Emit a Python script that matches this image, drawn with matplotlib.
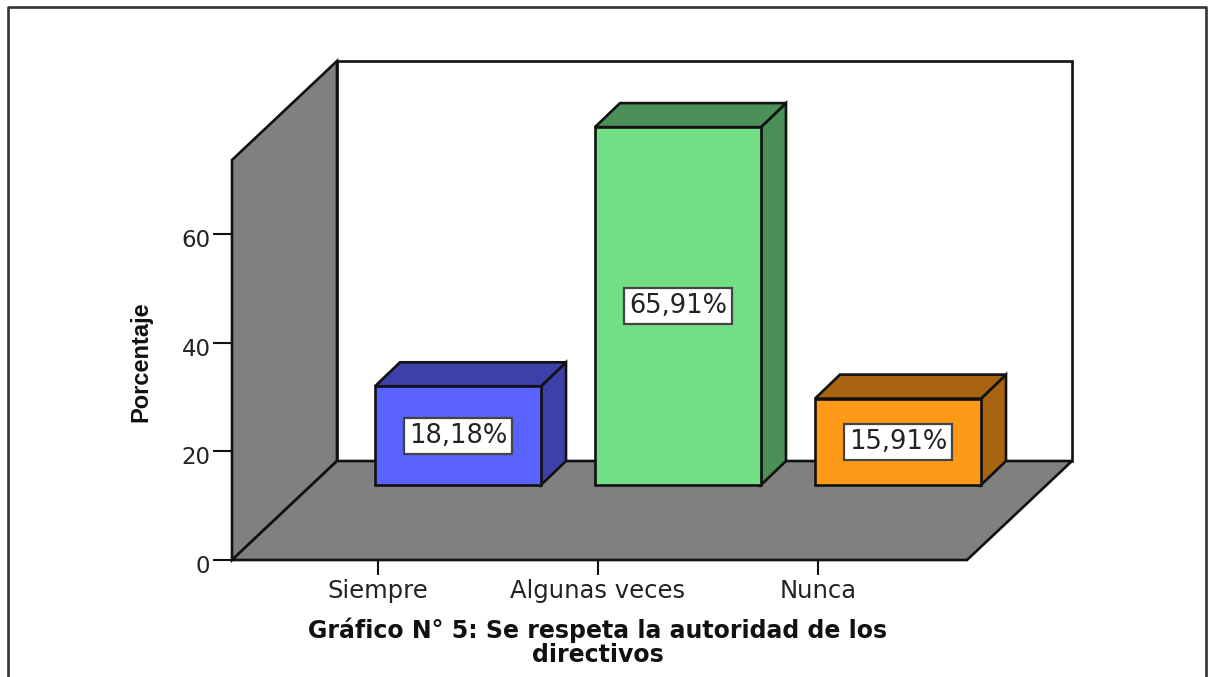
import matplotlib
matplotlib.use("Agg")
import matplotlib.pyplot as plt
from matplotlib.lines import Line2D
from matplotlib.patches import Polygon
from matplotlib.transforms import ScaledTranslation

categories = ["Siempre", "Algunas veces", "Nunca"]
values = [18.18, 65.91, 15.91]
value_labels = ["18,18%", "65,91%", "15,91%"]
face_colors = ["#5A62FF", "#72DE85", "#FF9A18"]
shade_colors = ["#3D40A8", "#4A9058", "#A86410"]
y_ticks = [0, 20, 40, 60]
y_label = "Porcentaje"
title_lines = ["Gráfico N° 5: Se respeta la autoridad de los", "directivos"]

W, H = 1214, 677
PX_X, PX_Y = 220.0, 5.43           # pixels per category / per percent
fig = plt.figure(figsize=(W / 100, H / 100), dpi=100, facecolor="white")
left, right, top, bottom = 232, 967, 160, 560
ax = fig.add_axes([left / W, 1 - bottom / H, (right - left) / W, (bottom - top) / H])
ax.set_xlim((left - 378) / PX_X, (right - 378) / PX_X)
ax.set_ylim(0, (bottom - top) / PX_Y)
ax.patch.set_visible(False)
for s in ax.spines.values():
    s.set_visible(False)

EDGE = "#111111"
LW = 1.9
dx, dy = 105 / PX_X, 99 / PX_Y      # depth of the chart box
ymax = ax.get_ylim()[1]
x0, x1 = ax.get_xlim()

def poly(pts, fc, z):
    ax.add_patch(Polygon(pts, closed=True, facecolor=fc, edgecolor=EDGE, linewidth=LW,
                         joinstyle="miter", clip_on=False, zorder=z))

poly([(x0 + dx, dy), (x1 + dx, dy), (x1 + dx, ymax + dy), (x0 + dx, ymax + dy)], "white", 1)
poly([(x0, 0), (x0, ymax), (x0 + dx, ymax + dy), (x0 + dx, dy)], "#808080", 2)
poly([(x0, 0), (x1, 0), (x1 + dx, dy), (x0 + dx, dy)], "#808080", 2)

# 3-D bars
bar_dx, bar_base = 80 / PX_X, 75 / PX_Y
half = 83 / PX_X
bdx, bdy = 25 / PX_X, 24 / PX_Y
for i, (v, fc, sc, lab) in enumerate(zip(values, face_colors, shade_colors, value_labels)):
    xa, xb = i + bar_dx - half, i + bar_dx + half
    ya, yb = bar_base, bar_base + v
    poly([(xb, ya), (xb + bdx, ya + bdy), (xb + bdx, yb + bdy), (xb, yb)], sc, 3 + i)
    poly([(xa, yb), (xb, yb), (xb + bdx, yb + bdy), (xa + bdx, yb + bdy)], sc, 3 + i)
    poly([(xa, ya), (xb, ya), (xb, yb), (xa, yb)], fc, 3 + i)
    ax.text(i + bar_dx, bar_base + v / 2, lab, ha="center", va="center",
            fontsize=18.5, family="DejaVu Sans", color="#222222", zorder=10,
            bbox=dict(boxstyle="square,pad=0.2", facecolor="white",
                      edgecolor="#444444", linewidth=1.6))

ax.set_yticks(y_ticks)
ax.set_xticks(range(len(categories)))
ax.set_xticklabels(categories)
ax.tick_params(axis="y", length=13.5, width=1.5, color=EDGE, pad=2, labelsize=16.5, labelcolor="#222222")
ax.tick_params(axis="x", length=10.5, width=1.5, color=EDGE, pad=3, labelsize=17.5, labelcolor="#222222")
offset = ScaledTranslation(0, -4 / 100, fig.dpi_scale_trans)
for l in ax.get_yticklabels():
    l.set_transform(l.get_transform() + offset)

fig.text(141 / W, 1 - 362 / H, y_label, rotation=90, ha="center", va="center",
         fontsize=17, fontweight="bold", family="Liberation Sans", color="#111111")
for line, py in zip(title_lines, [630, 655]):
    fig.text(598 / W, 1 - py / H, line, ha="center", va="center", fontsize=17,
             fontweight="bold", family="DejaVu Sans", color="#111111")

# outer frame
frame = dict(color="#333333", linewidth=1.9, transform=fig.transFigure)
fig.add_artist(Line2D([8 / W, 8 / W, 1206 / W, 1206 / W], [0, 1 - 7 / H, 1 - 7 / H, 0], **frame))

fig.savefig("out.png", dpi=100, facecolor="white")
